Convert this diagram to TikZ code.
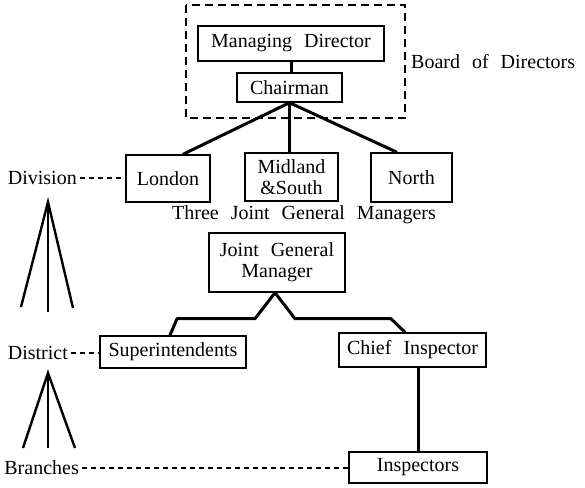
\documentclass[tikz,border=0pt]{standalone}
\usepackage{fontspec}
\setmainfont[WordSpace=2.4]{Liberation Serif}
\begin{document}
\begin{tikzpicture}[x=1pt,y=-1pt,
  box/.style={draw,line width=1.4pt,inner sep=0pt,align=center,font=\fontsize{20}{21}\selectfont},
  lbl/.style={inner sep=0pt,font=\fontsize{20}{21}\selectfont},
  conn/.style={line width=3pt,line join=round},
  leader/.style={line width=1.4pt,dash pattern=on 5pt off 4pt},
  tri/.style={line width=2.4pt,line join=miter}]
\useasboundingbox (0,0) rectangle (585,487);
% board
\draw[line width=1.4pt,dash pattern=on 8pt off 5pt] (186,5) rectangle (405,118);
\node[box,minimum width=186pt,minimum height=35pt] (md) at (291,43.5) {Managing Director};
\node[box,minimum width=105pt,minimum height=29pt] (ch) at (289.5,87.5) {Chairman};
\node[lbl,anchor=west] (bod) at (411,62) {Board of Directors};
% divisions
\node[box,minimum width=84pt,minimum height=47pt] (lon) at (168,178.5) {London};
\node[box,minimum width=93pt,minimum height=48pt] (mid) at (291.5,177) {Midland\\\&South};
\node[box,minimum width=81pt,minimum height=49pt] (nor) at (411.5,177.5) {North};
\node[lbl] (three) at (304,215) {Three Joint General Managers};
\node[box,minimum width=136pt,minimum height=59pt] (jgm) at (277,262.5) {Joint General\\Manager};
\node[box,minimum width=146pt,minimum height=32pt] (sup) at (173,352) {Superintendents};
\node[box,minimum width=147pt,minimum height=34pt] (ci) at (412.5,350) {Chief Inspector};
\node[box,minimum width=138pt,minimum height=31pt] (insp) at (418,467.5) {Inspectors};
% side labels
\node[lbl,anchor=east] (div) at (77,178) {Division};
\node[lbl,anchor=east] (dis) at (68,353) {District};
\node[lbl,anchor=east] (bra) at (79,468) {Branches};
% connectors
\draw[conn] (md.south) -- (md.south |- ch.north);
\draw[conn] (ch.south) -- ([xshift=15pt]lon.north);
\draw[conn] (ch.south) -- (ch.south |- mid.north);
\draw[conn] (ch.south) -- ([xshift=-14.5pt]nor.north);
\draw[conn] ([xshift=-2pt]jgm.south) -- ++(-20,26) -- ++(-78,0) -- ([xshift=-3pt]sup.north);
\draw[conn] ([xshift=-2pt]jgm.south) -- ++(20,26) -- ++(96,0) -- ([xshift=-7.5pt]ci.north);
\draw[conn] (insp.north) -- (insp.north |- ci.south);
% leaders
\draw[leader] ([xshift=3pt]div.east) -- (lon.west |- div.east);
\draw[leader] ([xshift=3pt]dis.east) -- (sup.west |- dis.east);
\draw[leader] ([xshift=3pt]bra.east) -- (insp.west |- bra.east);
% tripods
\coordinate (a1) at (48,202);
\draw[tri] (21,307) -- (a1) -- (73,308);
\draw[tri] (a1) -- (48,312);
\coordinate (a2) at (48,373);
\draw[tri] (23,448) -- (a2) -- (75,448);
\draw[tri] (a2) -- (48,448);
\end{tikzpicture}
\end{document}
